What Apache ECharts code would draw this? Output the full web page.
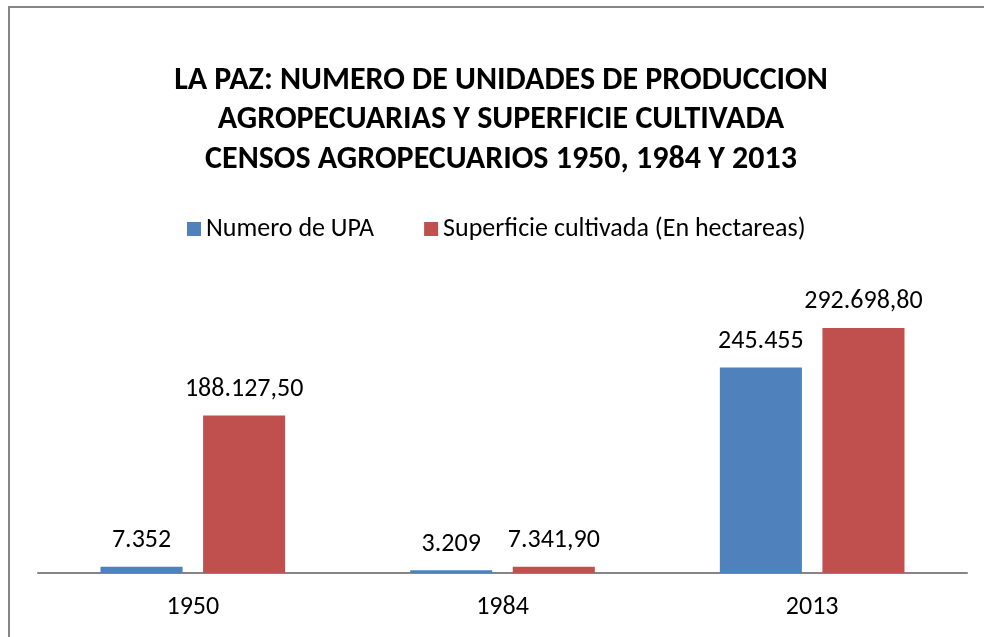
<!DOCTYPE html>
<html>
<head>
<meta charset="utf-8">
<script src="https://cdn.jsdelivr.net/npm/echarts@6/dist/echarts.min.js"></script>
<style>
  body { margin: 0; background: #fff; }
  #chart { width: 984px; height: 637px; }
</style>
</head>
<body>
<div id="chart"></div>
<script>
  // datos del grafico
  var years = ['1950', '1984', '2013'];
  var upa = [7352, 3209, 245455];
  var superficie = [188127.50, 7341.90, 292698.80];
  var seriesNames = ['Numero de UPA', 'Superficie cultivada (En hectareas)'];
  var titleLines = [
    'LA PAZ: NUMERO DE UNIDADES DE PRODUCCION',
    'AGROPECUARIAS Y SUPERFICIE CULTIVADA',
    'CENSOS AGROPECUARIOS 1950, 1984 Y 2013'
  ];

  // formato 188.127,50
  function fmt(v, dec) {
    var parts = v.toFixed(dec).split('.');
    var ent = parts[0].replace(/\B(?=(\d{3})+(?!\d))/g, '.');
    return dec ? ent + ',' + parts[1] : ent;
  }

  var font = 'Carlito, "Open Sans", sans-serif';
  var fs = 26;
  var myChart = echarts.init(document.getElementById('chart'));
  var option = {
    animation: false,
    textStyle: { fontFamily: font },
    color: ['#4F81BD', '#C0504D'],
    title: {
      text: titleLines.join('\n'),
      left: 501,
      textAlign: 'center',
      top: 61,
      padding: 0,
      textStyle: {
        fontFamily: font,
        fontSize: 32,
        fontWeight: 'bold',
        color: '#000',
        lineHeight: 39.5
      }
    },
    legend: {
      data: seriesNames,
      top: 211,
      left: 182,
      icon: 'rect',
      itemWidth: 14,
      itemHeight: 14,
      itemGap: 50,
      textStyle: { fontSize: fs, color: '#000', fontFamily: font }
    },
    grid: { left: 38, right: 17, top: 280, bottom: 64 },
    xAxis: {
      type: 'category',
      data: years,
      axisTick: { show: false },
      axisLine: { lineStyle: { color: '#868686', width: 2 } },
      axisLabel: { fontSize: fs, color: '#000', margin: 21, fontFamily: font }
    },
    yAxis: {
      type: 'value',
      min: 0,
      max: 350000,
      show: false
    },
    series: [
      {
        name: seriesNames[0],
        type: 'bar',
        data: upa,
        barWidth: '26.5%',
        barGap: '25%',
        label: {
          show: true, position: 'top', distance: 13,
          fontSize: fs, color: '#000', fontFamily: font,
          formatter: function (p) { return fmt(p.value, 0); }
        }
      },
      {
        name: seriesNames[1],
        type: 'bar',
        data: superficie,
        barWidth: '26.5%',
        label: {
          show: true, position: 'top', distance: 13,
          fontSize: fs, color: '#000', fontFamily: font,
          formatter: function (p) { return fmt(p.value, 2); }
        }
      }
    ],
    graphic: [
      {
        type: 'rect',
        shape: { x: 9, y: 7, width: 1000, height: 700 },
        style: { fill: 'none', stroke: '#868686', lineWidth: 2 },
        silent: true
      }
    ]
  };
  myChart.setOption(option);
</script>
</body>
</html>
